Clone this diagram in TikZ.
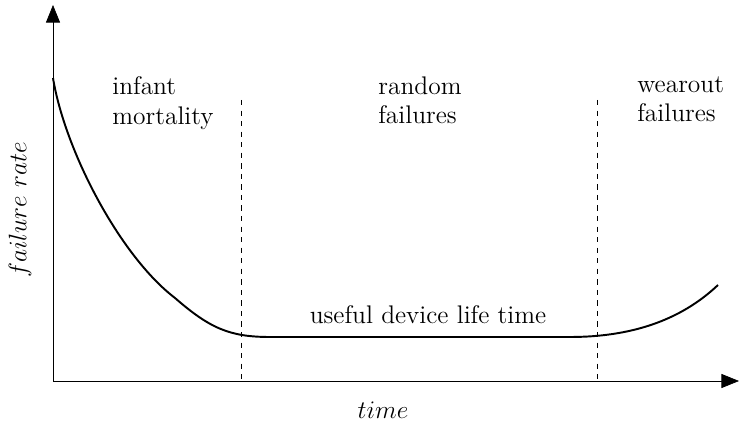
\documentclass[tikz,border=0pt]{standalone}
\usetikzlibrary{arrows.meta}
\tikzset{
    etichetta/.style={font=\fontsize{14.5}{17}\selectfont,align=left,inner sep=0pt},
    confine/.style={dashed,thin},
    asse/.style={-{Triangle[length=10pt,width=8pt]},thin}
}
\begin{document}
\begin{tikzpicture}
    \useasboundingbox (0,0) rectangle (14.78,8.52);
    %origine e estremi assi
    \coordinate (O) at (1.06,0.9);
    \coordinate (ymax) at (1.06,8.42);
    \coordinate (xmax) at (14.78,0.9);
    %disegno asse x
    \draw[asse](O)--(xmax);
    %disegno asse y
    \draw[asse](O)--(ymax);
    \node[etichetta] (tempo) at (7.66,0.32) {$time$};
    \node[etichetta,rotate=90] (tasso) at (0.4,4.32) {$failure\ rate$};

    %confini delle zone
    \coordinate (c1a) at (4.82,6.52);
    \coordinate (c1b) at (4.82,0.9);
    \coordinate (c2a) at (11.94,6.52);
    \coordinate (c2b) at (11.94,0.9);
    \draw[confine](c1a)--(c1b);
    \draw[confine](c2a)--(c2b);

    %curva a vasca da bagno
    \draw[line width=1.1pt](1.06,6.96) .. controls (1.3,5.5) and (2.4,3.4) .. (3.5,2.56)
        .. controls (4.2,1.95) and (4.6,1.78) .. (5.4,1.78)
        --(11.4,1.78)
        .. controls (12.6,1.78) and (13.6,2.1) .. (14.36,2.82);

    %etichette zone
    \node[etichetta,anchor=north west] (infantile) at (2.24,7.0) {infant\\mortality};
    \node[etichetta,anchor=north west] (casuale) at (7.56,7.0) {random\\failures};
    \node[etichetta,anchor=north west] (usura) at (12.74,7.0) {wearout\\failures};
    \node[etichetta] (vita) at (8.56,2.22) {useful device life time};
\end{tikzpicture}
\end{document}
